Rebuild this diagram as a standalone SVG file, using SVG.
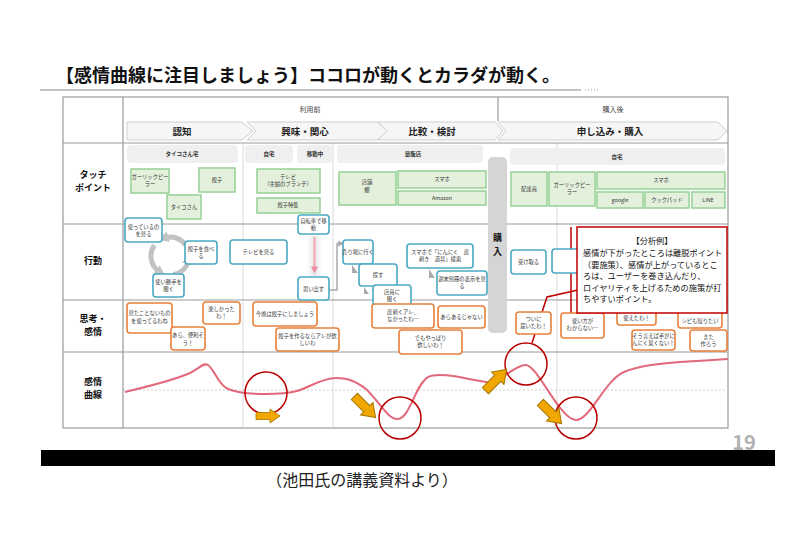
<svg xmlns="http://www.w3.org/2000/svg" width="800" height="542" viewBox="0 0 800 542">
<defs>
<style>
text{font-family:"Noto Sans CJK JP","Noto Sans",sans-serif;fill:#222}
.ti{font-size:18px;font-weight:bold;fill:#111}
.hd{font-size:7px;text-anchor:middle;fill:#444}
.st{font-size:9.5px;font-weight:bold;text-anchor:middle}
.rl{font-size:9px;font-weight:bold;text-anchor:middle;fill:#111}
.t{font-size:5.3px;text-anchor:middle;fill:#333}
.tb{font-size:5.5px;font-weight:bold;text-anchor:middle;fill:#333}
.co{font-size:8.2px;fill:#111}
.grid{stroke:#999;stroke-width:1.2;fill:none}
.lg{stroke:#dadada;stroke-width:1;fill:none}
.chev{fill:#f6f6f6;stroke:#cfcfcf;stroke-width:1}
.pill{fill:#efefef}
.g{fill:#e3f1dc;stroke:#95d195;stroke-width:1.5}
.b{fill:#fff;stroke:#49a9c2;stroke-width:1.6}
.o{fill:#fff;stroke:#e8803a;stroke-width:1.6}
.ring{fill:none;stroke:#b80000;stroke-width:1.5}
.arr{fill:#f0a800;stroke:#a57600;stroke-width:0.8}
.cyc{fill:none;stroke:#c2c2c2;stroke-width:5}
</style>
<marker id="mg" viewBox="0 0 10 10" refX="3" refY="5" markerWidth="2.2" markerHeight="2.4" orient="auto"><path d="M0,0 L10,5 L0,10 z" fill="#c2c2c2"/></marker>
<marker id="ms" viewBox="0 0 10 10" refX="8" refY="5" markerWidth="4" markerHeight="4" orient="auto"><path d="M0,0 L10,5 L0,10 z" fill="#aaa"/></marker>
<marker id="mp" viewBox="0 0 10 10" refX="8" refY="5" markerWidth="3.5" markerHeight="3.5" orient="auto"><path d="M0,0 L10,5 L0,10 z" fill="#f08ca0"/></marker>
<linearGradient id="fade" x1="0" y1="0" x2="1" y2="0"><stop offset="0" stop-color="#fff"/><stop offset="0.5" stop-color="#e6e6e6"/><stop offset="1" stop-color="#fff"/></linearGradient>
<path id="blk" d="M-12,-3.5 H2 V-7 L12,0 L2,7 V3.5 H-12 Z"/>
</defs>
<rect width="800" height="542" fill="#fff"/>

<g id="title">
<text class="ti" x="56" y="82">【感情曲線に注目しましょう】ココロが動くとカラダが動く。</text>
<line x1="40" y1="90" x2="581" y2="90" stroke="#888" stroke-width="1.2"/>
<line x1="585" y1="90" x2="599" y2="90" stroke="#999" stroke-width="1" stroke-dasharray="1 2"/>
</g>

<g id="table">
<rect x="63" y="97" width="665" height="331" fill="#fff" stroke="#999" stroke-width="1.2"/>
<line class="lg" x1="243" y1="143" x2="243" y2="428"/>
<line class="lg" x1="333" y1="143" x2="333" y2="428"/>
<line class="lg" x1="557" y1="143" x2="557" y2="428"/>
<line x1="123" y1="390" x2="728" y2="390" stroke="#cfcfcf" stroke-width="1" stroke-dasharray="2 2"/>
<line class="grid" x1="123" y1="97" x2="123" y2="428"/>
<line class="grid" x1="498" y1="97" x2="498" y2="121"/>
<line class="grid" x1="63" y1="143" x2="728" y2="143"/>
<line class="grid" x1="63" y1="224" x2="728" y2="224"/>
<line class="grid" x1="63" y1="300" x2="728" y2="300"/>
<line class="grid" x1="63" y1="352" x2="728" y2="352"/>
<text class="hd" x="310" y="112">利用前</text>
<text class="hd" x="613" y="112">購入後</text>
<text class="rl" x="93" y="178">タッチ</text>
<text class="rl" x="93" y="191">ポイント</text>
<text class="rl" x="93" y="264">行動</text>
<text class="rl" x="93" y="322">思考・</text>
<text class="rl" x="93" y="335">感情</text>
<text class="rl" x="93" y="385">感情</text>
<text class="rl" x="93" y="398">曲線</text>
</g>

<g id="stages">
<polygon class="chev" points="127,122 242,122 253,131 242,140 127,140"/>
<polygon class="chev" points="247,122 377,122 388,131 377,140 247,140 256,131"/>
<polygon class="chev" points="378,122 495,122 503,131 495,140 378,140 387,131"/>
<polygon class="chev" points="498,122 718,122 727,131 718,140 498,140 506,131"/>
<text class="st" x="182" y="134.5">認知</text>
<text class="st" x="305" y="134.5">興味・関心</text>
<text class="st" x="432" y="134.5">比較・検討</text>
<text class="st" x="610" y="134.5">申し込み・購入</text>
</g>

<g id="places">
<rect class="pill" x="127" y="145" width="111" height="18" rx="4"/><text class="tb" x="182" y="156">タイコさん宅</text>
<rect class="pill" x="245" y="145" width="48" height="18" rx="4"/><text class="tb" x="269" y="156">自宅</text>
<rect class="pill" x="297" y="145" width="35" height="18" rx="4"/><text class="tb" x="315" y="156">移動中</text>
<rect class="pill" x="337" y="145" width="146" height="18" rx="4"/><text class="tb" x="413" y="156">量販店</text>
<rect class="pill" x="510" y="148" width="215" height="17" rx="4"/><text class="tb" x="617" y="158.5">自宅</text>
</g>

<g id="purchase">
<rect x="488" y="157" width="19" height="176" rx="5" fill="#d5d5d5"/>
<text class="rl" x="497.5" y="241" font-size="11">購</text>
<text class="rl" x="497.5" y="255" font-size="11">入</text>
</g>

<g id="touchpoints">
<g id="tp1"><rect class="g" x="131" y="169" width="38" height="24"/><text class="t" x="150" y="179">ガーリックピー</text><text class="t" x="150" y="186">ラー</text></g>
<g id="tp2"><rect class="g" x="199" y="168" width="36" height="24"/><text class="t" x="217" y="182">餃子</text></g>
<g id="tp3"><rect class="g" x="167" y="195" width="34" height="24"/><text class="t" x="184" y="209">タイコさん</text></g>
<g id="tp4"><rect class="g" x="257" y="169" width="63" height="24"/><text class="t" x="288" y="179">テレビ</text><text class="t" x="288" y="186">（主婦のブランチ）</text></g>
<g id="tp5"><rect class="g" x="257" y="198" width="63" height="15"/><text class="t" x="288" y="207">餃子特集</text></g>
<g id="tp6"><rect class="g" x="339" y="172" width="57" height="33"/><text class="t" x="367" y="184">店舗</text><text class="t" x="367" y="191.5">棚</text></g>
<g id="tp7"><rect class="g" x="398" y="171" width="88" height="17"/><text class="t" x="442" y="181">スマホ</text></g>
<g id="tp8"><rect class="g" x="398" y="191" width="88" height="14"/><text class="t" x="442" y="200">Amazon</text></g>
<g id="tp9"><rect class="g" x="511" y="172" width="36" height="34"/><text class="t" x="529" y="191">配達員</text></g>
<g id="tp10"><rect class="g" x="549" y="172" width="46" height="34"/><text class="t" x="572" y="187">ガーリックピー</text><text class="t" x="572" y="194">ラー</text></g>
<g id="tp11"><rect class="g" x="597" y="172" width="128" height="17"/><text class="t" x="661" y="182">スマホ</text></g>
<g id="tp12"><rect class="g" x="597" y="192" width="46" height="16"/><text class="t" x="620" y="202">google</text></g>
<g id="tp13"><rect class="g" x="645" y="192" width="44" height="16"/><text class="t" x="667" y="202">クックパッド</text></g>
<g id="tp14"><rect class="g" x="692" y="192" width="33" height="16"/><text class="t" x="708" y="202">LINE</text></g>
</g>

<g id="connectors">
<path class="cyc" d="M154.4,245.1 A19,19 0 0 0 159.1,271.6" marker-end="url(#mg)"/>
<path class="cyc" d="M173.3,274.7 A19,19 0 0 0 188.4,260.9" marker-end="url(#mg)"/>
<path class="cyc" d="M185.6,245.1 A19,19 0 0 0 165.1,237.6" marker-end="url(#mg)"/>
<rect x="307" y="236" width="15" height="40" fill="url(#fade)"/>
<line x1="314.5" y1="237" x2="314.5" y2="272" stroke="#f4a4b2" stroke-width="2" marker-end="url(#mp)"/>
<path d="M329,290 H337 V243.5 H343" fill="none" stroke="#aaa" stroke-width="1.5" marker-end="url(#ms)"/>
<polygon points="352,265 352,273 358,273" fill="#aaa"/>
<polygon points="364,287 364,294 369,294" fill="#aaa"/>
<polygon points="429,269 429,278 435,278" fill="#aaa"/>
<polyline points="578,290 547,297 532,343" fill="none" stroke="#c00000" stroke-width="1.5"/>
<line x1="571" y1="227" x2="571" y2="313" stroke="#c00000" stroke-width="1.5"/>
</g>

<g id="actions">
<g id="a1"><rect class="b" x="125" y="218" width="37" height="24" rx="3"/><text class="t" x="143.5" y="228.5">使っているの</text><text class="t" x="143.5" y="236">を見る</text></g>
<g id="a2"><rect class="b" x="185" y="241" width="32" height="23" rx="3"/><text class="t" x="201" y="251">餃子を食べ</text><text class="t" x="201" y="258">る</text></g>
<g id="a3"><rect class="b" x="153" y="274" width="31" height="23" rx="3"/><text class="t" x="168.5" y="284">使い勝手を</text><text class="t" x="168.5" y="291">聞く</text></g>
<g id="a4"><rect class="b" x="230" y="240" width="57" height="24" rx="3"/><text class="t" x="258.5" y="254">テレビを見る</text></g>
<g id="a5"><rect class="b" x="298" y="215" width="31" height="19" rx="3"/><text class="t" x="313.5" y="223">自転車で移</text><text class="t" x="313.5" y="230">動</text></g>
<g id="a6"><rect class="b" x="298" y="277" width="31" height="23" rx="3"/><text class="t" x="313.5" y="290.5">思い出す</text></g>
<g id="a7"><rect class="b" x="343" y="240" width="30" height="24" rx="3"/><text class="t" x="358" y="254">売り場に行く</text></g>
<g id="a8"><rect class="b" x="359" y="264" width="38" height="22" rx="3"/><text class="t" x="378" y="277">探す</text></g>
<g id="a9"><rect class="b" x="373" y="285" width="38" height="24" rx="3"/><text class="t" x="392" y="294">店員に</text><text class="t" x="392" y="301">聞く</text></g>
<g id="a10"><rect class="b" x="407" y="244" width="66" height="24" rx="3"/><text class="t" x="440" y="254">スマホで「にんにく　皮</text><text class="t" x="440" y="261">剥き　道具」検索</text></g>
<g id="a11"><rect class="b" x="437" y="271" width="50" height="24" rx="3"/><text class="t" x="462" y="281">週末別冊の表示を見</text><text class="t" x="462" y="288">る</text></g>
<g id="a12"><rect class="b" x="511" y="250" width="35" height="24" rx="3"/><text class="t" x="528.5" y="264">受け取る</text></g>
<g id="a13"><rect class="b" x="552" y="249" width="40" height="24" rx="3"/></g>
</g>

<g id="thoughts">
<g id="f1"><rect class="o" x="127" y="303" width="45" height="30" rx="3"/><text class="t" x="149.5" y="315">見たことないもの</text><text class="t" x="149.5" y="323">を使ってるわね</text></g>
<g id="f2"><rect class="o" x="171" y="327" width="34" height="23" rx="3"/><text class="t" x="188" y="337">あら、便利そ</text><text class="t" x="188" y="345">う！</text></g>
<g id="f3"><rect class="o" x="203" y="302" width="37" height="22" rx="3"/><text class="t" x="221.5" y="311">楽しかった</text><text class="t" x="221.5" y="318">わ！</text></g>
<g id="f4"><rect class="o" x="253" y="302" width="64" height="24" rx="3"/><text class="t" x="285" y="315.5">今晩は餃子にしましょう</text></g>
<g id="f5"><rect class="o" x="276" y="328" width="63" height="23" rx="3"/><text class="t" x="307.5" y="338">餃子を作るならアレが欲</text><text class="t" x="307.5" y="345">しいわ</text></g>
<g id="f6"><rect class="o" x="372" y="304" width="62" height="24" rx="3"/><text class="t" x="403" y="314">皮剥くアレ、</text><text class="t" x="403" y="321">なかったわ…</text></g>
<g id="f7"><rect class="o" x="438" y="306" width="47" height="22" rx="3"/><text class="t" x="461.5" y="319">あらあるじゃない</text></g>
<g id="f8"><rect class="o" x="399" y="330" width="63" height="24" rx="3"/><text class="t" x="430.5" y="340">でもやっぱり</text><text class="t" x="430.5" y="347">欲しいわ！</text></g>
<g id="f9"><rect class="o" x="516" y="312" width="35" height="22" rx="3"/><text class="t" x="533.5" y="321">ついに</text><text class="t" x="533.5" y="328">届いたわ！</text></g>
<g id="f10"><rect class="o" x="561" y="313" width="43" height="25" rx="3"/><text class="t" x="582.5" y="323">使い方が</text><text class="t" x="582.5" y="330">わからない…</text></g>
<g id="f11"><rect class="o" x="617" y="303" width="39" height="22" rx="3"/><text class="t" x="636.5" y="320">使えたわ！</text></g>
<g id="f12"><rect class="o" x="678" y="303" width="44" height="25" rx="3"/><text class="t" x="700" y="323">シピも知りたい</text></g>
<g id="f13"><rect class="o" x="632" y="330" width="43" height="20" rx="3"/><text class="t" x="653.5" y="338">そう言えば手がに</text><text class="t" x="653.5" y="345">んにく臭くない！</text></g>
<g id="f14"><rect class="o" x="690" y="330" width="37" height="21" rx="3"/><text class="t" x="708.5" y="338.5">また</text><text class="t" x="708.5" y="345.5">作ろう</text></g>
</g>

<g id="callout">
<rect x="577" y="227" width="150" height="86" fill="#fff" stroke="#c00000" stroke-width="1.5"/>
<text class="co" x="652" y="244" text-anchor="middle">【分析例】</text>
<text class="co" x="583" y="256">感情が下がったところは離脱ポイント</text>
<text class="co" x="583" y="267.5">（要施策）、感情が上がっているとこ</text>
<text class="co" x="583" y="279">ろは、ユーザーを巻き込んだり、</text>
<text class="co" x="583" y="290.5">ロイヤリティを上げるための施策が打</text>
<text class="co" x="583" y="302">ちやすいポイント。</text>
</g>

<g id="curve">
<path d="M125,392 C150,386 175,380 190,373 C200,368 204,362 208,365 C215,370 218,385 228,389 C240,394 255,394 265,394 C280,394 290,393 297,391 C310,387 322,378 336,378 C350,378 358,383 366,389 C378,400 388,420 398,419 C410,418 415,385 428,377 C440,371 470,380 486,382 C500,384 515,364 526,365 C538,366 560,420 576,420 C590,420 605,380 624,372 C640,365 660,364 680,362 C700,361 715,360 728,359" fill="none" stroke="#e2697b" stroke-width="2"/>
<circle class="ring" cx="266" cy="393" r="21"/>
<circle class="ring" cx="400" cy="418" r="21"/>
<circle class="ring" cx="526" cy="364" r="21"/>
<circle class="ring" cx="576" cy="418" r="21"/>
<use href="#blk" class="arr" transform="translate(268,416)"/>
<use href="#blk" class="arr" transform="translate(365,407) rotate(45) scale(1.25)"/>
<use href="#blk" class="arr" transform="translate(496,380) rotate(-45) scale(1.25)"/>
<use href="#blk" class="arr" transform="translate(551,413) rotate(45) scale(1.25)"/>
</g>

<g id="footer">
<rect x="41" y="450" width="734" height="16" fill="#000"/>
<text x="744" y="450" font-size="20" font-weight="bold" text-anchor="middle" style="fill:#b0b0b0">19</text>
<text x="362" y="486" font-size="16" text-anchor="middle">（池田氏の講義資料より）</text>
</g>
</svg>
